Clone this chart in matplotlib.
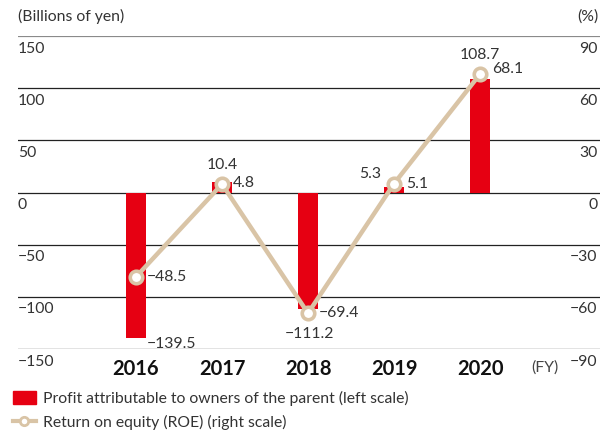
import matplotlib
matplotlib.use("agg")
import matplotlib.pyplot as plt
from matplotlib.lines import Line2D
from matplotlib.patches import Patch

plt.rcParams["font.family"] = ["Lato", "DejaVu Sans"]

years = ["2016", "2017", "2018", "2019", "2020"]
profit = [-139.5, 10.4, -111.2, 5.3, 108.7]
roe = [-48.5, 4.8, -69.4, 5.1, 68.1]
left_ticks = [150, 100, 50, 0, -50, -100, -150]
right_ticks = [90, 60, 30, 0, -30, -60, -90]

RED = "#E60012"
TAN = "#D9C4A6"
TXT = "#333333"
FS = 11.3


def fmt(v):
    return f"{v:.1f}".replace("-", "\u2212")


def tick_fmt(v):
    return str(v).replace("-", "\u2212")


fig = plt.figure(figsize=(6.05, 4.33), dpi=100)
ax = fig.add_axes([18 / 605, 84 / 433, 582 / 605, 313 / 433])
ax2 = ax.twinx()

x = list(range(len(years)))
ax.bar(x, profit, width=0.235, color=RED, zorder=3)
ax.set_xlim(-1.372, 5.395)
ax.set_ylim(-150, 150)
ax2.set_ylim(-90, 90)

# horizontal rules with labels sitting just under them
for i, (lv, rv) in enumerate(zip(left_ticks, right_ticks)):
    top = i == 0
    ax.axhline(lv, color="#8a8a8a" if top else "#222222",
               lw=1.6 if top else 0.9, zorder=1)
    ax.annotate(tick_fmt(lv), (0, lv), xycoords=ax.get_yaxis_transform(),
                xytext=(0, -4), textcoords="offset points",
                ha="left", va="top", fontsize=FS, color=TXT)
    ax.annotate(tick_fmt(rv), (1, lv), xycoords=ax.get_yaxis_transform(),
                xytext=(-2, -4), textcoords="offset points",
                ha="right", va="top", fontsize=FS, color=TXT)

ax2.plot(x, roe, color=TAN, lw=3.2, marker="o", ms=9, mfc="white",
         mec=TAN, mew=2.6, zorder=5)

for a in (ax, ax2):
    for s in a.spines.values():
        s.set_visible(False)
    a.set_yticks([])
ax.set_zorder(1)
ax2.set_zorder(2)
ax.patch.set_visible(False)

ax.set_xticks(x)
ax.set_xticklabels(years, fontsize=14.5, fontweight="bold", color="#111111")
ax.tick_params(axis="x", length=0, pad=7)
ax2.tick_params(axis="x", length=0)

# bar value labels: (dx, dy) offsets in points and alignment
bar_pos = [(8, -4, "left"), (0, 12, "center"), (1, -18, "center"),
           (-9, 9, "right"), (0, 17, "center")]
for xi, v, (dx, dy, ha) in zip(x, profit, bar_pos):
    ax.annotate(fmt(v), (xi, v), xytext=(dx, dy), textcoords="offset points",
                ha=ha, va="center", fontsize=FS, color=TXT, zorder=6)

roe_pos = [(8, 0), (8, 1), (8, 0), (9, 0), (9, 4)]
for xi, v, (dx, dy) in zip(x, roe, roe_pos):
    ax2.annotate(fmt(v), (xi, v), xytext=(dx, dy), textcoords="offset points",
                 ha="left", va="center", fontsize=FS, color=TXT, zorder=6)

ax.text(0, 1.062, "(Billions of yen)", transform=ax.transAxes, ha="left",
        va="center", fontsize=FS, color=TXT)
ax.text(0.997, 1.062, "(%)", transform=ax.transAxes, ha="right",
        va="center", fontsize=FS, color=TXT)
ax.annotate("(FY)", (4.75, -150), xytext=(0, -13.5), textcoords="offset points",
            ha="center", va="center", fontsize=FS, color="#444444")

handles = [Patch(color=RED),
           Line2D([], [], color=TAN, lw=3, marker="o", ms=6, mfc="white",
                  mec=TAN, mew=2)]
labels = ["Profit attributable to owners of the parent (left scale)",
          "Return on equity (ROE) (right scale)"]
fig.legend(handles, labels, loc="lower left", bbox_to_anchor=(-0.002, -0.025),
           frameon=False, fontsize=FS, handlelength=1.45, handleheight=0.85,
           handletextpad=0.45, labelspacing=0.55, labelcolor=TXT)

fig.savefig("out.png", dpi=100)
